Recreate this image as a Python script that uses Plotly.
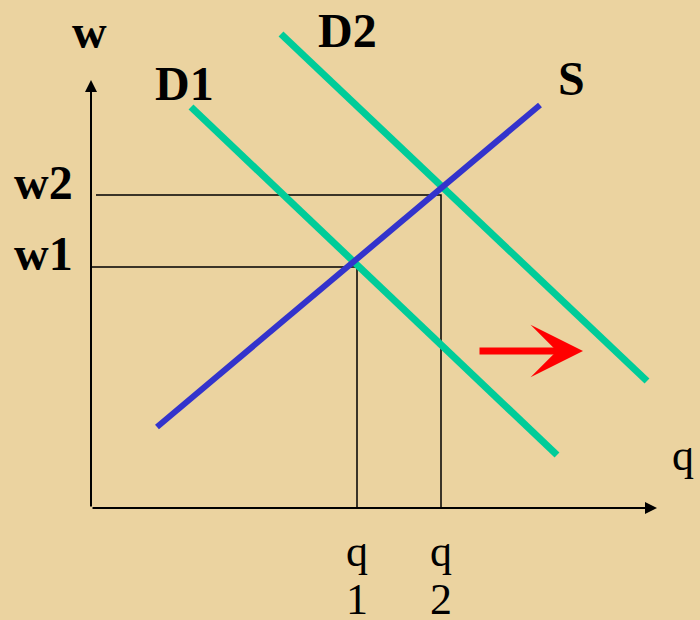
import plotly.graph_objs as go

# values (q, w units, origin at axis corner)
q_axis_max = 566
w_axis_max = 428

supply_q = [66, 449]
supply_w = [81, 403]
d1_q = [100, 466]
d1_w = [401, 53]
d2_q = [190, 556]
d2_w = [474, 127]

eq_labels = ["1", "2"]
eq_q = [266, 350]
eq_w = [241, 313]
guide_start = [0, 5]

shift_q = [387, 492]
shift_w = [157, 157]

serif = "Liberation Serif, Times New Roman, serif"
green = "#00cc99"
blue = "#3333cc"

fig = go.Figure()

# guide lines to equilibria
for q, w, s in zip(eq_q, eq_w, guide_start):
    fig.add_trace(go.Scatter(x=[s, q, q], y=[w, w, 0], mode="lines",
                             line=dict(color="black", width=1.5), hoverinfo="skip"))

# curves
fig.add_trace(go.Scatter(x=d1_q, y=d1_w, mode="lines", name="D1", line=dict(color=green, width=7)))
fig.add_trace(go.Scatter(x=d2_q, y=d2_w, mode="lines", name="D2", line=dict(color=green, width=7)))
fig.add_trace(go.Scatter(x=supply_q, y=supply_w, mode="lines", name="S", line=dict(color=blue, width=6)))

annotations = []
# axes with arrows
annotations.append(dict(x=0, y=w_axis_max, ax=0, ay=0, xref="x", yref="y", axref="x", ayref="y",
                        text="", showarrow=True, arrowhead=2, arrowsize=1.2, arrowwidth=2, arrowcolor="black"))
annotations.append(dict(x=q_axis_max, y=0, ax=0, ay=0, xref="x", yref="y", axref="x", ayref="y",
                        text="", showarrow=True, arrowhead=2, arrowsize=1.2, arrowwidth=2, arrowcolor="black"))
# shift arrow
annotations.append(dict(x=shift_q[1], y=shift_w[1], ax=shift_q[0], ay=shift_w[0], xref="x", yref="y",
                        axref="x", ayref="y", text="", showarrow=True, arrowhead=3, arrowsize=1.25,
                        arrowwidth=7, arrowcolor="#ff0000"))

bold = dict(family=serif, size=48, color="black")
plain = dict(family=serif, size=44, color="black")


def label(txt, x, y, font):
    annotations.append(dict(x=x, y=y, xref="x", yref="y", text=txt, showarrow=False, font=font))


label("<b>w</b>", -2, 477, bold)
label("<b>D2</b>", 256, 478, bold)
label("<b>D1</b>", 93, 425, bold)
label("<b>S</b>", 480, 430, bold)
label("<b>w2</b>", -48, 326, bold)
label("<b>w1</b>", -48, 255, bold)
label("q", 592, 53, plain)
for lab, q in zip(eq_labels, eq_q):
    label("q", q, -43, plain)
    label(lab, q, -91, plain)

fig.update_layout(width=700, height=620,
                  margin=dict(l=0, r=0, t=0, b=0),
                  paper_bgcolor="#ebd3a0",
                  plot_bgcolor="#ebd3a0",
                  showlegend=False,
                  xaxis=dict(range=[-91, 609], visible=False, fixedrange=True),
                  yaxis=dict(range=[-112, 508], visible=False, fixedrange=True),
                  annotations=annotations)

fig.write_html("out.html", config={"displayModeBar": False},
               post_script="document.body.style.margin='0';")
